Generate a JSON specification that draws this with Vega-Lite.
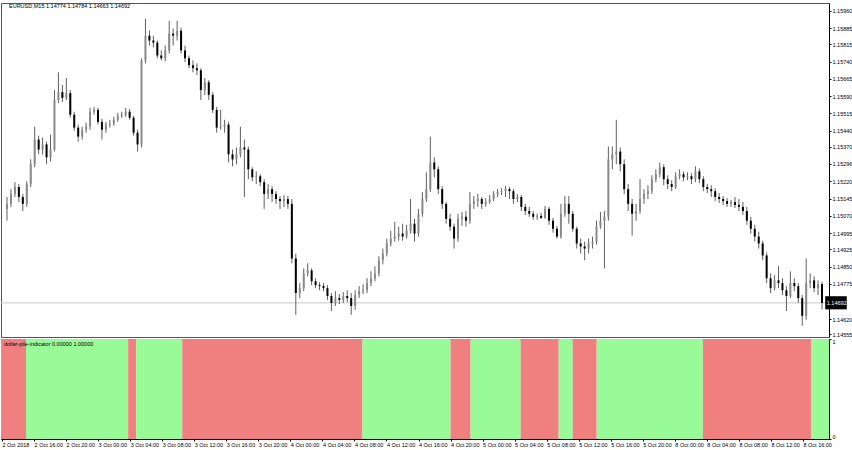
{
"$schema": "https://vega.github.io/schema/vega-lite/v6.json",
"padding": {"left": 0, "top": 2, "right": 0, "bottom": 0},
"background": "white",
"spacing": 2,
"bounds": "flush",
"config": {
  "view": {"stroke": "#555555", "strokeWidth": 1},
  "font": "Liberation Sans",
  "axis": {"labelFont": "Liberation Sans", "labelFontSize": 5.5, "labelColor": "#000000", "tickColor": "#000000", "domainColor": "#000000", "grid": false, "title": null, "tickSize": 2, "labelPadding": 1, "labelOverlap": false, "tickCount": 200}
},
"datasets": {
"bars": [
{"i":0,"o":1.15100,"h":1.15152,"l":1.15049,"c":1.15122},
{"i":2,"o":1.15122,"h":1.15186,"l":1.15109,"c":1.15165},
{"i":4,"o":1.15165,"h":1.15216,"l":1.15152,"c":1.15195},
{"i":6,"o":1.15195,"h":1.15208,"l":1.15130,"c":1.15152},
{"i":8,"o":1.15152,"h":1.15165,"l":1.15091,"c":1.15122},
{"i":10,"o":1.15122,"h":1.15220,"l":1.15109,"c":1.15208},
{"i":12,"o":1.15208,"h":1.15315,"l":1.15195,"c":1.15294},
{"i":14,"o":1.15294,"h":1.15457,"l":1.15281,"c":1.15401},
{"i":16,"o":1.15401,"h":1.15418,"l":1.15337,"c":1.15358},
{"i":18,"o":1.15358,"h":1.15410,"l":1.15337,"c":1.15380},
{"i":20,"o":1.15380,"h":1.15392,"l":1.15294,"c":1.15324},
{"i":22,"o":1.15324,"h":1.15422,"l":1.15306,"c":1.15358},
{"i":24,"o":1.15358,"h":1.15616,"l":1.15349,"c":1.15573},
{"i":26,"o":1.15573,"h":1.15693,"l":1.15560,"c":1.15607},
{"i":28,"o":1.15607,"h":1.15638,"l":1.15564,"c":1.15582},
{"i":30,"o":1.15582,"h":1.15668,"l":1.15573,"c":1.15603},
{"i":32,"o":1.15603,"h":1.15616,"l":1.15496,"c":1.15509},
{"i":34,"o":1.15509,"h":1.15522,"l":1.15440,"c":1.15453},
{"i":36,"o":1.15453,"h":1.15466,"l":1.15392,"c":1.15414},
{"i":38,"o":1.15414,"h":1.15457,"l":1.15401,"c":1.15444},
{"i":40,"o":1.15444,"h":1.15474,"l":1.15431,"c":1.15457},
{"i":42,"o":1.15457,"h":1.15539,"l":1.15444,"c":1.15522},
{"i":44,"o":1.15522,"h":1.15543,"l":1.15509,"c":1.15530},
{"i":46,"o":1.15530,"h":1.15539,"l":1.15466,"c":1.15478},
{"i":48,"o":1.15478,"h":1.15491,"l":1.15401,"c":1.15444},
{"i":50,"o":1.15444,"h":1.15478,"l":1.15431,"c":1.15466},
{"i":52,"o":1.15466,"h":1.15487,"l":1.15453,"c":1.15470},
{"i":54,"o":1.15470,"h":1.15500,"l":1.15461,"c":1.15487},
{"i":56,"o":1.15487,"h":1.15517,"l":1.15478,"c":1.15504},
{"i":58,"o":1.15504,"h":1.15522,"l":1.15496,"c":1.15509},
{"i":60,"o":1.15509,"h":1.15539,"l":1.15500,"c":1.15522},
{"i":62,"o":1.15522,"h":1.15534,"l":1.15487,"c":1.15496},
{"i":64,"o":1.15496,"h":1.15504,"l":1.15418,"c":1.15431},
{"i":66,"o":1.15431,"h":1.15444,"l":1.15349,"c":1.15380},
{"i":68,"o":1.15380,"h":1.15754,"l":1.15367,"c":1.15745},
{"i":70,"o":1.15745,"h":1.15926,"l":1.15732,"c":1.15852},
{"i":72,"o":1.15852,"h":1.15874,"l":1.15809,"c":1.15831},
{"i":74,"o":1.15831,"h":1.15852,"l":1.15801,"c":1.15822},
{"i":76,"o":1.15822,"h":1.15831,"l":1.15754,"c":1.15766},
{"i":78,"o":1.15766,"h":1.15788,"l":1.15745,"c":1.15754},
{"i":80,"o":1.15754,"h":1.15809,"l":1.15741,"c":1.15788},
{"i":82,"o":1.15788,"h":1.15917,"l":1.15775,"c":1.15861},
{"i":84,"o":1.15861,"h":1.15883,"l":1.15809,"c":1.15852},
{"i":86,"o":1.15852,"h":1.15917,"l":1.15831,"c":1.15874},
{"i":88,"o":1.15874,"h":1.15887,"l":1.15775,"c":1.15788},
{"i":90,"o":1.15788,"h":1.15809,"l":1.15737,"c":1.15754},
{"i":92,"o":1.15754,"h":1.15766,"l":1.15711,"c":1.15724},
{"i":94,"o":1.15724,"h":1.15745,"l":1.15693,"c":1.15711},
{"i":96,"o":1.15711,"h":1.15732,"l":1.15681,"c":1.15702},
{"i":98,"o":1.15702,"h":1.15711,"l":1.15573,"c":1.15616},
{"i":100,"o":1.15616,"h":1.15668,"l":1.15595,"c":1.15650},
{"i":102,"o":1.15650,"h":1.15659,"l":1.15573,"c":1.15595},
{"i":104,"o":1.15595,"h":1.15607,"l":1.15517,"c":1.15530},
{"i":106,"o":1.15530,"h":1.15543,"l":1.15431,"c":1.15453},
{"i":108,"o":1.15453,"h":1.15530,"l":1.15444,"c":1.15457},
{"i":110,"o":1.15457,"h":1.15487,"l":1.15431,"c":1.15466},
{"i":112,"o":1.15466,"h":1.15478,"l":1.15302,"c":1.15337},
{"i":114,"o":1.15337,"h":1.15358,"l":1.15285,"c":1.15315},
{"i":116,"o":1.15315,"h":1.15367,"l":1.15294,"c":1.15337},
{"i":118,"o":1.15337,"h":1.15457,"l":1.15324,"c":1.15367},
{"i":120,"o":1.15367,"h":1.15401,"l":1.15152,"c":1.15358},
{"i":122,"o":1.15358,"h":1.15371,"l":1.15229,"c":1.15272},
{"i":124,"o":1.15272,"h":1.15281,"l":1.15220,"c":1.15237},
{"i":126,"o":1.15237,"h":1.15263,"l":1.15208,"c":1.15242},
{"i":128,"o":1.15242,"h":1.15251,"l":1.15199,"c":1.15216},
{"i":130,"o":1.15216,"h":1.15229,"l":1.15100,"c":1.15165},
{"i":132,"o":1.15165,"h":1.15208,"l":1.15143,"c":1.15186},
{"i":134,"o":1.15186,"h":1.15199,"l":1.15130,"c":1.15165},
{"i":136,"o":1.15165,"h":1.15177,"l":1.15122,"c":1.15143},
{"i":138,"o":1.15143,"h":1.15156,"l":1.15100,"c":1.15134},
{"i":140,"o":1.15134,"h":1.15160,"l":1.15109,"c":1.15143},
{"i":142,"o":1.15143,"h":1.15156,"l":1.15100,"c":1.15122},
{"i":144,"o":1.15122,"h":1.15143,"l":1.14864,"c":1.14885},
{"i":146,"o":1.14885,"h":1.14906,"l":1.14640,"c":1.14735},
{"i":148,"o":1.14735,"h":1.14778,"l":1.14713,"c":1.14756},
{"i":150,"o":1.14756,"h":1.14842,"l":1.14743,"c":1.14820},
{"i":152,"o":1.14820,"h":1.14864,"l":1.14807,"c":1.14833},
{"i":154,"o":1.14833,"h":1.14842,"l":1.14769,"c":1.14786},
{"i":156,"o":1.14786,"h":1.14799,"l":1.14756,"c":1.14769},
{"i":158,"o":1.14769,"h":1.14782,"l":1.14747,"c":1.14765},
{"i":160,"o":1.14765,"h":1.14778,"l":1.14743,"c":1.14756},
{"i":162,"o":1.14756,"h":1.14769,"l":1.14705,"c":1.14722},
{"i":164,"o":1.14722,"h":1.14735,"l":1.14657,"c":1.14692},
{"i":166,"o":1.14692,"h":1.14743,"l":1.14679,"c":1.14713},
{"i":168,"o":1.14713,"h":1.14730,"l":1.14687,"c":1.14705},
{"i":170,"o":1.14705,"h":1.14739,"l":1.14692,"c":1.14722},
{"i":172,"o":1.14722,"h":1.14747,"l":1.14696,"c":1.14713},
{"i":174,"o":1.14713,"h":1.14735,"l":1.14640,"c":1.14679},
{"i":176,"o":1.14679,"h":1.14747,"l":1.14662,"c":1.14726},
{"i":178,"o":1.14726,"h":1.14765,"l":1.14713,"c":1.14743},
{"i":180,"o":1.14743,"h":1.14773,"l":1.14730,"c":1.14747},
{"i":182,"o":1.14747,"h":1.14799,"l":1.14735,"c":1.14778},
{"i":184,"o":1.14778,"h":1.14829,"l":1.14765,"c":1.14799},
{"i":186,"o":1.14799,"h":1.14851,"l":1.14786,"c":1.14820},
{"i":188,"o":1.14820,"h":1.14894,"l":1.14807,"c":1.14877},
{"i":190,"o":1.14877,"h":1.14928,"l":1.14859,"c":1.14906},
{"i":192,"o":1.14906,"h":1.14971,"l":1.14894,"c":1.14950},
{"i":194,"o":1.14950,"h":1.15005,"l":1.14937,"c":1.14971},
{"i":196,"o":1.14971,"h":1.15044,"l":1.14958,"c":1.14980},
{"i":198,"o":1.14980,"h":1.15023,"l":1.14962,"c":1.14993},
{"i":200,"o":1.14993,"h":1.15036,"l":1.14962,"c":1.14980},
{"i":202,"o":1.14980,"h":1.15031,"l":1.14971,"c":1.15005},
{"i":204,"o":1.15005,"h":1.15143,"l":1.14993,"c":1.15036},
{"i":206,"o":1.15036,"h":1.15057,"l":1.14958,"c":1.14993},
{"i":208,"o":1.14993,"h":1.15100,"l":1.14980,"c":1.15079},
{"i":210,"o":1.15079,"h":1.15173,"l":1.15066,"c":1.15143},
{"i":212,"o":1.15143,"h":1.15259,"l":1.15130,"c":1.15186},
{"i":214,"o":1.15186,"h":1.15414,"l":1.15173,"c":1.15302},
{"i":216,"o":1.15302,"h":1.15324,"l":1.15237,"c":1.15272},
{"i":218,"o":1.15272,"h":1.15285,"l":1.15165,"c":1.15186},
{"i":220,"o":1.15186,"h":1.15199,"l":1.15100,"c":1.15122},
{"i":222,"o":1.15122,"h":1.15130,"l":1.15036,"c":1.15057},
{"i":224,"o":1.15057,"h":1.15079,"l":1.15005,"c":1.15023},
{"i":226,"o":1.15023,"h":1.15036,"l":1.14928,"c":1.14971},
{"i":228,"o":1.14971,"h":1.15079,"l":1.14958,"c":1.15057},
{"i":230,"o":1.15057,"h":1.15087,"l":1.15027,"c":1.15066},
{"i":232,"o":1.15066,"h":1.15091,"l":1.15023,"c":1.15049},
{"i":234,"o":1.15049,"h":1.15173,"l":1.15036,"c":1.15122},
{"i":236,"o":1.15122,"h":1.15156,"l":1.15100,"c":1.15134},
{"i":238,"o":1.15134,"h":1.15165,"l":1.15109,"c":1.15143},
{"i":240,"o":1.15143,"h":1.15152,"l":1.15100,"c":1.15122},
{"i":242,"o":1.15122,"h":1.15147,"l":1.15109,"c":1.15130},
{"i":244,"o":1.15130,"h":1.15160,"l":1.15122,"c":1.15143},
{"i":246,"o":1.15143,"h":1.15177,"l":1.15134,"c":1.15165},
{"i":248,"o":1.15165,"h":1.15186,"l":1.15152,"c":1.15173},
{"i":250,"o":1.15173,"h":1.15190,"l":1.15160,"c":1.15177},
{"i":252,"o":1.15177,"h":1.15199,"l":1.15152,"c":1.15186},
{"i":254,"o":1.15186,"h":1.15195,"l":1.15143,"c":1.15177},
{"i":256,"o":1.15177,"h":1.15186,"l":1.15122,"c":1.15143},
{"i":258,"o":1.15143,"h":1.15165,"l":1.15130,"c":1.15152},
{"i":260,"o":1.15152,"h":1.15160,"l":1.15091,"c":1.15109},
{"i":262,"o":1.15109,"h":1.15122,"l":1.15074,"c":1.15091},
{"i":264,"o":1.15091,"h":1.15109,"l":1.15066,"c":1.15079},
{"i":266,"o":1.15079,"h":1.15091,"l":1.15053,"c":1.15066},
{"i":268,"o":1.15066,"h":1.15079,"l":1.15053,"c":1.15070},
{"i":270,"o":1.15070,"h":1.15083,"l":1.15057,"c":1.15061},
{"i":272,"o":1.15061,"h":1.15113,"l":1.15057,"c":1.15100},
{"i":274,"o":1.15100,"h":1.15109,"l":1.15031,"c":1.15049},
{"i":276,"o":1.15049,"h":1.15061,"l":1.14997,"c":1.15014},
{"i":278,"o":1.15014,"h":1.15027,"l":1.14971,"c":1.14980},
{"i":280,"o":1.14980,"h":1.15122,"l":1.14971,"c":1.15079},
{"i":282,"o":1.15079,"h":1.15156,"l":1.15066,"c":1.15122},
{"i":284,"o":1.15122,"h":1.15156,"l":1.15036,"c":1.15079},
{"i":286,"o":1.15079,"h":1.15091,"l":1.15001,"c":1.15014},
{"i":288,"o":1.15014,"h":1.15023,"l":1.14928,"c":1.14950},
{"i":290,"o":1.14950,"h":1.14971,"l":1.14906,"c":1.14937},
{"i":292,"o":1.14937,"h":1.14958,"l":1.14877,"c":1.14928},
{"i":294,"o":1.14928,"h":1.14971,"l":1.14906,"c":1.14950},
{"i":296,"o":1.14950,"h":1.14980,"l":1.14928,"c":1.14958},
{"i":298,"o":1.14958,"h":1.15049,"l":1.14945,"c":1.15023},
{"i":300,"o":1.15023,"h":1.15087,"l":1.15014,"c":1.15049},
{"i":302,"o":1.15049,"h":1.15091,"l":1.14842,"c":1.15066},
{"i":304,"o":1.15066,"h":1.15371,"l":1.15049,"c":1.15315},
{"i":306,"o":1.15315,"h":1.15371,"l":1.15272,"c":1.15337},
{"i":308,"o":1.15337,"h":1.15487,"l":1.15294,"c":1.15349},
{"i":310,"o":1.15349,"h":1.15367,"l":1.15263,"c":1.15294},
{"i":312,"o":1.15294,"h":1.15315,"l":1.15165,"c":1.15186},
{"i":314,"o":1.15186,"h":1.15208,"l":1.15091,"c":1.15122},
{"i":316,"o":1.15122,"h":1.15143,"l":1.14984,"c":1.15079},
{"i":318,"o":1.15079,"h":1.15122,"l":1.15049,"c":1.15091},
{"i":320,"o":1.15091,"h":1.15229,"l":1.15079,"c":1.15143},
{"i":322,"o":1.15143,"h":1.15186,"l":1.15122,"c":1.15165},
{"i":324,"o":1.15165,"h":1.15203,"l":1.15143,"c":1.15177},
{"i":326,"o":1.15177,"h":1.15246,"l":1.15165,"c":1.15229},
{"i":328,"o":1.15229,"h":1.15272,"l":1.15216,"c":1.15251},
{"i":330,"o":1.15251,"h":1.15302,"l":1.15237,"c":1.15281},
{"i":332,"o":1.15281,"h":1.15294,"l":1.15203,"c":1.15229},
{"i":334,"o":1.15229,"h":1.15246,"l":1.15186,"c":1.15208},
{"i":336,"o":1.15208,"h":1.15225,"l":1.15177,"c":1.15195},
{"i":338,"o":1.15195,"h":1.15259,"l":1.15186,"c":1.15242},
{"i":340,"o":1.15242,"h":1.15272,"l":1.15229,"c":1.15251},
{"i":342,"o":1.15251,"h":1.15263,"l":1.15220,"c":1.15237},
{"i":344,"o":1.15237,"h":1.15259,"l":1.15225,"c":1.15242},
{"i":346,"o":1.15242,"h":1.15255,"l":1.15208,"c":1.15229},
{"i":348,"o":1.15229,"h":1.15285,"l":1.15216,"c":1.15263},
{"i":350,"o":1.15263,"h":1.15276,"l":1.15212,"c":1.15229},
{"i":352,"o":1.15229,"h":1.15242,"l":1.15177,"c":1.15195},
{"i":354,"o":1.15195,"h":1.15208,"l":1.15169,"c":1.15186},
{"i":356,"o":1.15186,"h":1.15203,"l":1.15152,"c":1.15177},
{"i":358,"o":1.15177,"h":1.15190,"l":1.15134,"c":1.15152},
{"i":360,"o":1.15152,"h":1.15169,"l":1.15126,"c":1.15143},
{"i":362,"o":1.15143,"h":1.15156,"l":1.15117,"c":1.15134},
{"i":364,"o":1.15134,"h":1.15147,"l":1.15109,"c":1.15122},
{"i":366,"o":1.15122,"h":1.15139,"l":1.15109,"c":1.15130},
{"i":368,"o":1.15130,"h":1.15152,"l":1.15104,"c":1.15117},
{"i":370,"o":1.15117,"h":1.15143,"l":1.15091,"c":1.15109},
{"i":372,"o":1.15109,"h":1.15130,"l":1.15074,"c":1.15091},
{"i":374,"o":1.15091,"h":1.15109,"l":1.15031,"c":1.15049},
{"i":376,"o":1.15049,"h":1.15066,"l":1.14993,"c":1.15014},
{"i":378,"o":1.15014,"h":1.15031,"l":1.14958,"c":1.14980},
{"i":380,"o":1.14980,"h":1.15001,"l":1.14928,"c":1.14950},
{"i":382,"o":1.14950,"h":1.14962,"l":1.14877,"c":1.14898},
{"i":384,"o":1.14898,"h":1.14911,"l":1.14778,"c":1.14799},
{"i":386,"o":1.14799,"h":1.14820,"l":1.14735,"c":1.14756},
{"i":388,"o":1.14756,"h":1.14812,"l":1.14747,"c":1.14790},
{"i":390,"o":1.14790,"h":1.14851,"l":1.14756,"c":1.14778},
{"i":392,"o":1.14778,"h":1.14799,"l":1.14726,"c":1.14747},
{"i":394,"o":1.14747,"h":1.14765,"l":1.14657,"c":1.14722},
{"i":396,"o":1.14722,"h":1.14829,"l":1.14713,"c":1.14778},
{"i":398,"o":1.14778,"h":1.14799,"l":1.14743,"c":1.14765},
{"i":400,"o":1.14765,"h":1.14778,"l":1.14692,"c":1.14713},
{"i":402,"o":1.14713,"h":1.14726,"l":1.14593,"c":1.14636},
{"i":404,"o":1.14636,"h":1.14885,"l":1.14619,"c":1.14778},
{"i":406,"o":1.14778,"h":1.14820,"l":1.14756,"c":1.14790},
{"i":408,"o":1.14790,"h":1.14807,"l":1.14739,"c":1.14756},
{"i":410,"o":1.14756,"h":1.14790,"l":1.14726,"c":1.14774},
{"i":412,"o":1.14774,"h":1.14784,"l":1.14663,"c":1.14692}
],
"ind": [
{"s":-0.5,"e":12,"sig":"sell","v":1},
{"s":12,"e":63,"sig":"buy","v":1},
{"s":63,"e":67,"sig":"sell","v":1},
{"s":67,"e":90,"sig":"buy","v":1},
{"s":90,"e":180,"sig":"sell","v":1},
{"s":180,"e":224,"sig":"buy","v":1},
{"s":224,"e":234,"sig":"sell","v":1},
{"s":234,"e":259,"sig":"buy","v":1},
{"s":259,"e":278,"sig":"sell","v":1},
{"s":278,"e":285,"sig":"buy","v":1},
{"s":285,"e":297,"sig":"sell","v":1},
{"s":297,"e":350,"sig":"buy","v":1},
{"s":350,"e":404,"sig":"sell","v":1},
{"s":404,"e":413,"sig":"buy","v":1}
]
},
"vconcat": [
{
  "width": 828,
  "height": 334,
  "layer": [
    {
      "data": {"values": [{}]},
      "mark": {"type": "rule", "color": "#c8c8c8", "strokeWidth": 1},
      "encoding": {"y": {"datum": 1.14692, "type": "quantitative", "scale": {"domain": [1.14544, 1.15994], "nice": false, "zero": false}}}
    },
    {
      "data": {"name": "bars"},
      "mark": {"type": "rule", "color": "#606060", "strokeWidth": 1},
      "encoding": {
        "x": {"field": "i", "type": "quantitative", "scale": {"domain": [-0.5, 413], "nice": false, "zero": false}, "axis": null},
        "y": {"field": "l", "type": "quantitative", "scale": {"domain": [1.14544, 1.15994], "nice": false, "zero": false},
          "axis": {"orient": "right", "values": [1.14555, 1.1462, 1.14775, 1.1485, 1.14925, 1.14995, 1.1507, 1.15145, 1.1522, 1.15296, 1.1537, 1.1544, 1.15515, 1.1559, 1.15665, 1.1574, 1.15815, 1.15885, 1.1596], "format": ".5f", "labelFlush": false, "labelOverlap": false, "tickCount": 200}},
        "y2": {"field": "h"}
      }
    },
    {
      "data": {"name": "bars"},
      "mark": {"type": "bar", "size": 2},
      "encoding": {
        "x": {"field": "i", "type": "quantitative", "scale": {"domain": [-0.5, 413], "nice": false, "zero": false}},
        "y": {"field": "o", "type": "quantitative", "scale": {"domain": [1.14544, 1.15994], "nice": false, "zero": false}},
        "y2": {"field": "c"},
        "color": {"condition": {"test": "datum.c < datum.o", "value": "#000000"}, "value": "#8a8a8a"}
      }
    },
    {
      "data": {"values": [{}]},
      "mark": {"type": "text", "align": "left", "baseline": "middle", "fontSize": 5.5, "color": "#000000", "dx": 3, "font": "Liberation Sans"},
      "encoding": {
        "x": {"datum": -0.5, "type": "quantitative"},
        "y": {"datum": 1.15982, "type": "quantitative"},
        "text": {"value": "EURUSD,M15  1.14774 1.14784 1.14663 1.14692"}
      }
    },
    {
      "data": {"values": [{}]},
      "mark": {"type": "rect", "color": "#000000", "clip": false},
      "encoding": {
        "x": {"datum": 413.6, "type": "quantitative"},
        "x2": {"datum": 424.5},
        "y": {"datum": 1.14721, "type": "quantitative"},
        "y2": {"datum": 1.14664}
      }
    },
    {
      "data": {"values": [{}]},
      "mark": {"type": "text", "align": "left", "baseline": "middle", "fontSize": 5.5, "color": "#ffffff", "clip": false, "font": "Liberation Sans"},
      "encoding": {
        "x": {"datum": 414.4, "type": "quantitative"},
        "y": {"datum": 1.14692, "type": "quantitative"},
        "text": {"value": "1.14692"}
      }
    }
  ]
},
{
  "width": 828,
  "height": 100,
  "data": {"name": "ind"},
  "layer": [
    {
      "mark": {"type": "bar"},
      "encoding": {
        "x": {"field": "s", "type": "quantitative", "scale": {"domain": [-0.5, 413], "nice": false, "zero": false},
          "axis": {"values": [0,16,32,48,64,80,96,112,128,144,160,176,192,208,224,240,256,272,288,304,320,336,352,368,384,400],
            "labelExpr": "['2 Oct 2018','2 Oct 16:00','2 Oct 20:00','3 Oct 00:00','3 Oct 04:00','3 Oct 08:00','3 Oct 12:00','3 Oct 16:00','3 Oct 20:00','4 Oct 00:00','4 Oct 04:00','4 Oct 08:00','4 Oct 12:00','4 Oct 16:00','4 Oct 20:00','5 Oct 00:00','5 Oct 04:00','5 Oct 08:00','5 Oct 12:00','5 Oct 16:00','5 Oct 20:00','8 Oct 00:00','8 Oct 04:00','8 Oct 08:00','8 Oct 12:00','8 Oct 16:00'][floor(datum.value/16+0.5)]",
            "labelAlign": "left", "labelFlush": false, "labelOverlap": false, "labelPadding": 1, "tickSize": 2, "tickCount": 200}},
        "x2": {"field": "e"},
        "y": {"field": "v", "type": "quantitative", "scale": {"domain": [0, 1], "nice": false},
          "axis": {"orient": "right", "values": [0, 1], "format": "d", "labelFlush": false, "labelOverlap": false, "tickCount": 10,
            "labelBaseline": {"condition": {"test": "datum.value == 1", "value": "top"}, "value": "bottom"}}},
        "y2": {"datum": 0},
        "color": {"field": "sig", "type": "nominal", "scale": {"domain": ["sell", "buy"], "range": ["#F08080", "#98FB98"]}, "legend": null}
      }
    },
    {
      "data": {"values": [{}]},
      "mark": {"type": "text", "align": "left", "baseline": "middle", "fontSize": 5.5, "color": "#000000", "dx": 3, "font": "Liberation Sans"},
      "encoding": {
        "x": {"datum": -0.5, "type": "quantitative"},
        "y": {"datum": 0.95, "type": "quantitative"},
        "text": {"value": "dollar-pile-indicator 0.00000 1.00000"}
      }
    }
  ]
}
]
}
